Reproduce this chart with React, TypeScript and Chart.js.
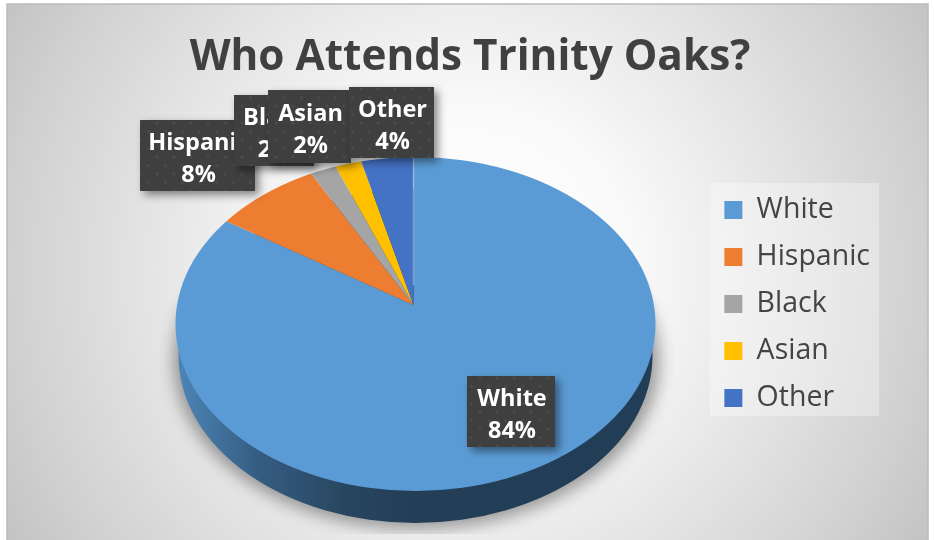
import React, { useEffect, useRef } from "react";
import { Chart, registerables } from "chart.js";

Chart.register(...registerables);

const categories = ["White", "Hispanic", "Black", "Asian", "Other"];
const shares = [84, 8, 2, 2, 4];
const colours = ["#5b9bd5", "#ed7d31", "#a5a5a5", "#ffc000", "#4472c4"];
const titleText = "Who Attends Trinity Oaks?";

const FONT = "'Open Sans'";
const W = 934;
const H = 540;
const CARD = { x: 7, y: 4, w: 921, h: 536 };
const TOP = { cx: 415.5, cy: 324, rx: 240, ry: 167 };
const WALL = { cx: 415.5, cy: 356, rx: 237, ry: 167 };
const APEX = { x: 413.5, y: 305, sx: 300, aspect: 0.705 };
const LEGEND_PANEL = { x: 710, y: 183, w: 169, h: 233 };
const LABEL_BOXES = [
  { l: 467, t: 376, r: 555, b: 447 },
  { l: 140, t: 120, r: 255, b: 191 },
  { l: 234, t: 95, r: 314, b: 166 },
  { l: 268, t: 90, r: 351, b: 163 },
  { l: 349, t: 87, r: 434, b: 158 },
];
const LABEL_ORDER = [0, 1, 2, 3, 4];

function dotPattern(ctx: CanvasRenderingContext2D) {
  const tile = document.createElement("canvas");
  tile.width = 17;
  tile.height = 17;
  const t = tile.getContext("2d")!;
  t.fillStyle = "#3f3f3f";
  t.fillRect(0, 0, 17, 17);
  t.fillStyle = "#4c4c4c";
  for (const [x, y] of [[4, 4], [12.5, 12.5]]) {
    t.beginPath();
    t.arc(x, y, 1.5, 0, Math.PI * 2);
    t.fill();
  }
  return ctx.createPattern(tile, "repeat")!;
}

const pieScene = {
  id: "pieScene",
  beforeDraw(chart: any) {
    const ctx: CanvasRenderingContext2D = chart.ctx;
    ctx.save();
    ctx.fillStyle = "#ffffff";
    ctx.fillRect(0, 0, W, H);
    const g = ctx.createRadialGradient(467, 270, 0, 467, 270, 540);
    g.addColorStop(0, "#ffffff");
    g.addColorStop(0.3, "#fafafa");
    g.addColorStop(0.57, "#e6e6e6");
    g.addColorStop(0.85, "#d0d0d0");
    g.addColorStop(1, "#c2c2c2");
    ctx.fillStyle = g;
    ctx.fillRect(CARD.x, CARD.y, CARD.w, CARD.h);
    ctx.strokeStyle = "#bcbcbc";
    ctx.lineWidth = 1.5;
    ctx.beginPath();
    ctx.moveTo(CARD.x, H);
    ctx.lineTo(CARD.x, CARD.y);
    ctx.lineTo(CARD.x + CARD.w, CARD.y);
    ctx.lineTo(CARD.x + CARD.w, H);
    ctx.stroke();
    ctx.fillStyle = "rgba(255,255,255,0.33)";
    ctx.fillRect(LEGEND_PANEL.x, LEGEND_PANEL.y, LEGEND_PANEL.w, LEGEND_PANEL.h);
    ctx.restore();
  },
  beforeDatasetsDraw(chart: any) {
    const ctx: CanvasRenderingContext2D = chart.ctx;
    ctx.save();
    ctx.save();
    ctx.beginPath();
    ctx.rect(160, 250, 515, 284);
    ctx.clip();
    ctx.filter = "blur(8px)";
    ctx.fillStyle = "rgba(0,0,0,0.36)";
    ctx.beginPath();
    ctx.ellipse(WALL.cx + 1, WALL.cy + 4, WALL.rx + 6, WALL.ry + 2, 0, 0, Math.PI * 2);
    ctx.fill();
    ctx.restore();
    const g = ctx.createLinearGradient(176, 0, 655, 0);
    g.addColorStop(0, "#4d86b8");
    g.addColorStop(0.17, "#355d82");
    g.addColorStop(0.35, "#284660");
    g.addColorStop(0.5, "#233e56");
    g.addColorStop(1, "#223e57");
    ctx.fillStyle = g;
    ctx.beginPath();
    ctx.ellipse(WALL.cx, WALL.cy, WALL.rx, WALL.ry, 0, 0, Math.PI * 2);
    ctx.fill();
    ctx.restore();
  },
  beforeDatasetDraw(chart: any) {
    const ctx: CanvasRenderingContext2D = chart.ctx;
    const arc = chart.getDatasetMeta(0).data[0];
    ctx.save();
    ctx.beginPath();
    ctx.ellipse(TOP.cx, TOP.cy, TOP.rx, TOP.ry, 0, 0, Math.PI * 2);
    ctx.clip();
    const k = APEX.sx / arc.outerRadius;
    ctx.translate(APEX.x, APEX.y);
    ctx.scale(k, k * APEX.aspect);
    ctx.translate(-arc.x, -arc.y);
  },
  afterDatasetDraw(chart: any) {
    const ctx: CanvasRenderingContext2D = chart.ctx;
    ctx.restore();
    ctx.save();
    ctx.strokeStyle = "rgba(190,215,240,0.45)";
    ctx.lineWidth = 1.5;
    ctx.beginPath();
    ctx.moveTo(APEX.x, APEX.y - 20);
    ctx.lineTo(APEX.x, TOP.cy - TOP.ry);
    ctx.stroke();
    ctx.restore();
  },
  afterDatasetsDraw(chart: any) {
    const ctx: CanvasRenderingContext2D = chart.ctx;
    const pattern = dotPattern(ctx);
    const labels: string[] = chart.data.labels;
    const data: number[] = chart.data.datasets[0].data;
    ctx.save();
    for (const i of LABEL_ORDER) {
      const b = LABEL_BOXES[i];
      ctx.save();
      ctx.shadowColor = "rgba(0,0,0,0.45)";
      ctx.shadowBlur = 8;
      ctx.shadowOffsetX = 4;
      ctx.shadowOffsetY = 4;
      ctx.fillStyle = pattern;
      ctx.fillRect(b.l, b.t, b.r - b.l, b.b - b.t);
      ctx.restore();
      ctx.save();
      ctx.beginPath();
      ctx.rect(b.l, b.t, b.r - b.l, b.b - b.t);
      ctx.clip();
      ctx.fillStyle = "#ffffff";
      ctx.font = `bold 23.5px ${FONT}`;
      ctx.textAlign = "center";
      ctx.textBaseline = "middle";
      const mx = (b.l + b.r) / 2 + 1;
      const my = (b.t + b.b) / 2;
      ctx.fillText(labels[i], mx, my - 12);
      ctx.fillText(`${data[i]}%`, mx, my + 20);
      ctx.restore();
    }
    ctx.restore();
  },
};

export default function App() {
  const ref = useRef<HTMLCanvasElement>(null);
  useEffect(() => {
    const chart = new Chart(ref.current!, {
      type: "pie",
      data: {
        labels: categories,
        datasets: [
          {
            data: shares,
            backgroundColor: colours,
            borderWidth: 0,
            clip: false,
          } as any,
        ],
      },
      plugins: [pieScene as any],
      options: {
        responsive: false,
        animation: false,
        devicePixelRatio: 1,
        layout: { padding: { bottom: 23, right: 54, left: 60 } },
        plugins: {
          title: {
            display: true,
            text: titleText,
            color: "#404040",
            font: { family: FONT, size: 42.3, weight: "bold" },
            padding: { top: 33, bottom: 7 },
          },
          legend: {
            display: true,
            position: "right",
            fullSize: false,
            labels: {
              color: "#444444",
              font: { family: FONT, size: 28.5 },
              boxWidth: 18,
              boxHeight: 18,
              padding: 18.5,
            },
          },
          tooltip: { enabled: false },
        },
      } as any,
    });
    return () => chart.destroy();
  }, []);
  return (
    <canvas
      ref={ref}
      width={W}
      height={H}
      style={{ position: "absolute", left: 0, top: 0, display: "block" }}
    />
  );
}
